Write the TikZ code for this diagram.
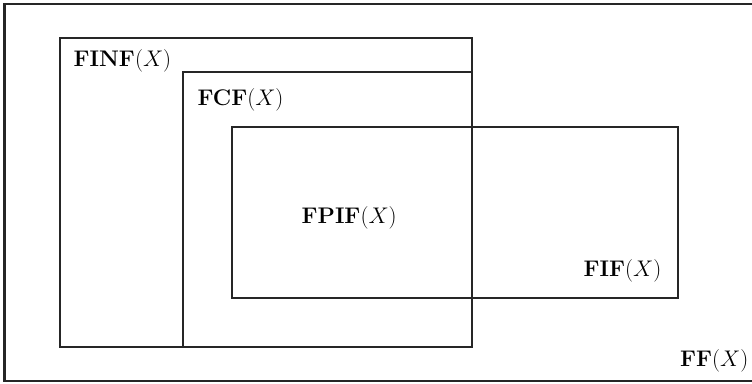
\documentclass[tikz,border=0pt]{standalone}
\usepackage{fix-cm}
\usepackage{amsmath}
\begin{document}
\begin{tikzpicture}[x=1pt,y=-1pt,
  setbox/.style={draw=black!85,line width=2pt},
  outerbox/.style={draw=black!85,line width=2.4pt},
  setlabel/.style={anchor=base west,inner sep=0pt,font=\fontsize{22.6}{26}\selectfont}]
\useasboundingbox (0,0) rectangle (752,383);
% universe FF(X), right side runs past the edge
\draw[outerbox] (760,4) -- (4.5,4) -- (4.5,381) -- (760,381);
% nested families
\draw[setbox] (60,38.3) rectangle (472.3,346.7);
\draw[setbox] (183.3,72.3) rectangle (472.3,346.7);
\draw[setbox] (232,127.3) rectangle (678.3,298.3);
% labels
\node[setlabel] (finf) at (73.5,66.5) {$\mathbf{FINF}(X)$};
\node[setlabel] (fcf) at (197.5,105) {$\mathbf{FCF}(X)$};
\node[setlabel] (fpif) at (301.5,223) {$\mathbf{FPIF}(X)$};
\node[setlabel] (fif) at (583.5,276) {$\mathbf{FIF}(X)$};
\node[setlabel] (ff) at (680,366.5) {$\mathbf{FF}(X)$};
\end{tikzpicture}
\end{document}
